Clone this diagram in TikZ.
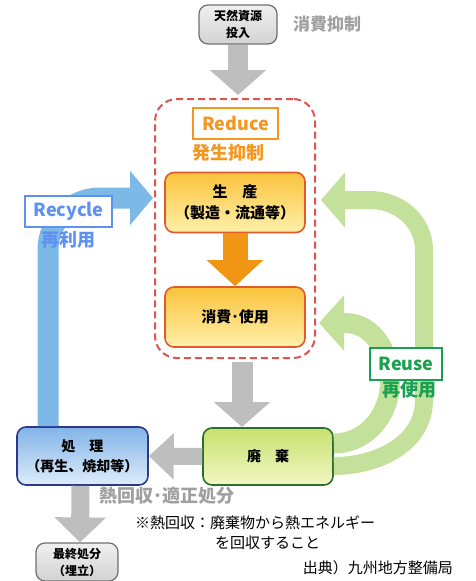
\documentclass[tikz,border=0pt]{standalone}
\usepackage{fontspec}
\setmainfont{Noto Sans CJK JP}
\usetikzlibrary{arrows.meta}
\definecolor{grayarrow}{RGB}{190,190,190}
\definecolor{grayline}{RGB}{110,110,110}
\definecolor{graytext}{RGB}{160,160,160}
\definecolor{orangearrow}{RGB}{240,150,20}
\definecolor{orangetext}{RGB}{245,150,30}
\definecolor{redzone}{RGB}{220,85,80}
\definecolor{redline}{RGB}{225,90,45}
\definecolor{bluearrow}{RGB}{125,185,230}
\definecolor{bluetext}{RGB}{95,145,240}
\definecolor{blueline}{RGB}{45,55,140}
\definecolor{greenarrow}{RGB}{195,225,155}
\definecolor{greentext}{RGB}{25,160,80}
\definecolor{greenline}{RGB}{45,110,45}

\begin{document}
\begin{tikzpicture}[x=1pt, y=1pt,
    box/.style={draw, rounded corners=9pt, line width=1.6pt, align=center, inner sep=0pt},
    graybox/.style={box, draw=grayline, line width=1.2pt, top color=gray!12, bottom color=gray!35, font=\bfseries\fontsize{12}{17}\selectfont},
    orangebox/.style={box, draw=redline, top color={rgb,255:red,250;green,195;blue,60}, bottom color={rgb,255:red,255;green,240;blue,170}, minimum width=140pt, minimum height=60pt, font=\bfseries\fontsize{15}{21}\selectfont},
    tag/.style={draw, fill=white, line width=1.3pt, inner sep=0pt, font=\bfseries\fontsize{18}{18}\selectfont},
    bigtext/.style={font=\bfseries\fontsize{18}{18}\selectfont},
    notetext/.style={anchor=west, inner sep=0pt, font=\fontsize{15}{15}\selectfont},
    grayflow/.style={draw=grayarrow, line width=20pt, -{Triangle[width=55pt,length=25pt]}},
    ]
    \useasboundingbox (0,0) rectangle (475,-581);

    \node[graybox, minimum width=78pt, minimum height=39pt] at (238,-24.5) (src) {天然資源\\投入};
    \node[font=\bfseries\fontsize{17}{17}\selectfont, text=graytext] at (327,-24) (cut) {消費抑制};
    \node[draw=redzone, line width=2pt, dash pattern=on 7pt off 4pt, rounded corners=22pt, minimum width=160pt, minimum height=259pt] at (235,-228.5) (zone) {};
    \node[bigtext, text=orangetext] at (228,-153) (hassei) {発生抑制};
    \node[orangebox] at (235,-202.5) (seisan) {生\hspace{1em}産\\（製造・流通等）};
    \node[orangebox] at (235,-317) (shohi) {消費･使用};
    \node[box, draw=greenline, top color={rgb,255:red,200;green,225;blue,110}, bottom color={rgb,255:red,242;green,246;blue,195}, minimum width=130pt, minimum height=57pt, font=\bfseries\fontsize{14}{17}\selectfont] at (268,-456.5) (haiki) {廃\hspace{1em}棄};
    \node[box, draw=blueline, top color={rgb,255:red,130;green,180;blue,232}, bottom color={rgb,255:red,222;green,236;blue,250}, minimum width=131pt, minimum height=58pt, font=\bfseries\fontsize{14}{20}\selectfont] at (82.5,-456) (shori) {処\hspace{1em}理\\（再生、焼却等）};
    \node[graybox, minimum width=82pt, minimum height=38pt] at (77,-562) (saishu) {最終処分\\（埋立）};

    \coordinate (topin) at (238,-95);
    \coordinate (midout) at (242,-362);
    \coordinate (midin) at (242,-427);
    \draw[grayflow] (src.south) -- (topin);
    \draw[grayflow, line width=21pt] (midout) -- (midin);
    \draw[grayflow, line width=17pt, -{Triangle[width=45pt,length=25pt]}] (haiki.west) -- (shori.east);
    \draw[grayflow, line width=18pt, -{Triangle[width=50pt,length=25pt]}] ([xshift=-2pt]shori.south) -- ([xshift=3pt]saishu.north);
    \draw[draw=orangearrow, line width=25pt, -{Triangle[width=55pt,length=26pt]}] (seisan.south) -- (shohi.north);

    \coordinate (recyclein) at (153,-198);
    \draw[draw=bluearrow, line width=21pt, -{Triangle[width=53pt,length=23pt]}] ([xshift=-34.5pt]shori.north) -- (48,-250) to[out=90,in=180] (100,-198) -- (recyclein);

    \coordinate (reusetop) at (321,-200);
    \coordinate (reusemid) at (319,-323);
    \draw[draw=greenarrow, line width=18pt, -{Triangle[width=54pt,length=24pt]}] ([yshift=-9.5pt]haiki.east) to[out=0,in=-90] (424,-400) -- (424,-250) to[out=90,in=0] (370,-200) -- (reusetop);
    \draw[draw=greenarrow, line width=20pt, -{Triangle[width=54pt,length=25pt]}] ([yshift=13pt]haiki.east) to[out=0,in=-90] (390,-382) to[out=90,in=0] (345,-323) -- (reusemid);

    \node[tag, draw=orangetext, text=orangetext, minimum width=85pt, minimum height=31pt] at (235.5,-123.5) (reduce) {Reduce};
    \node[tag, draw=bluetext, text=bluetext, minimum width=87pt, minimum height=31pt] at (68.5,-211.5) (recycle) {Recycle};
    \node[bigtext, text=bluetext] at (68,-240) (sairiyo) {再利用};
    \node[tag, draw=greentext, text=greentext, minimum width=72pt, minimum height=32pt] at (406,-364) (reuse) {Reuse};
    \node[bigtext, text=greentext] at (409,-390) (saishiyo) {再使用};
    \node[bigtext, text=graytext] at (167,-496) (netsu) {熱回収･適正処分};
    \node[notetext] at (135,-523) (note1) {※熱回収：廃棄物から熱エネルギー};
    \node[notetext] at (215,-543) (note2) {を回収すること};
    \node[notetext, anchor=east] at (453,-568) (source) {出典）九州地方整備局};
\end{tikzpicture}
\end{document}
